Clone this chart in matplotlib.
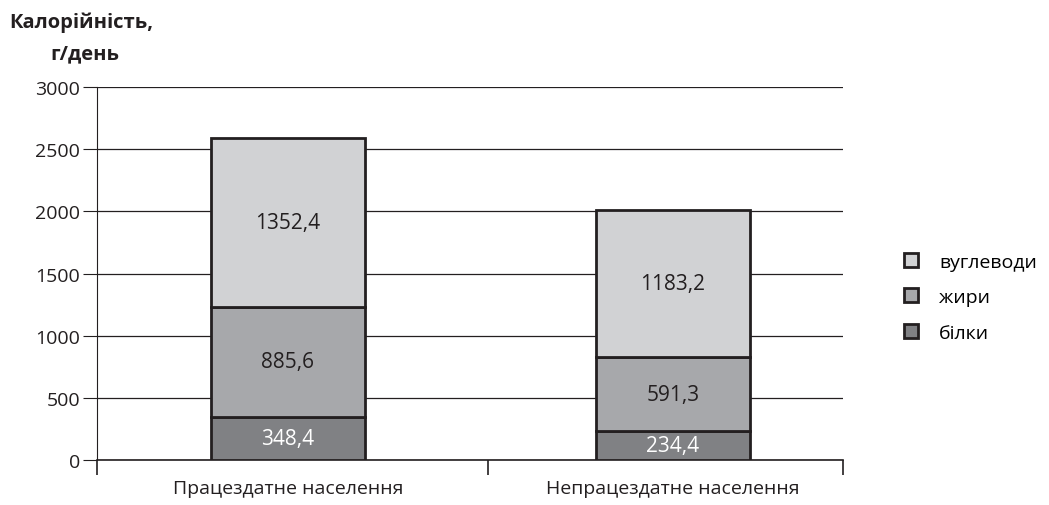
import matplotlib.pyplot as plt
import numpy as np

plt.rcParams['font.family'] = ['Open Sans', 'DejaVu Sans']

categories = ['Працездатне населення', 'Непрацездатне населення']
bilky = [348.4, 234.4]
zhyry = [885.6, 591.3]
vuhlevody = [1352.4, 1183.2]
labels = ['білки', 'жири', 'вуглеводи']
yticks = [0, 500, 1000, 1500, 2000, 2500, 3000]

colors = ['#808184', '#a7a8ab', '#d1d2d4']
edge = '#231f20'
fs = 14

fig = plt.figure(figsize=(10.49, 5.06), dpi=100)
ax = fig.add_axes([0.0925, 0.089, 0.711, 0.737])

x = np.arange(len(categories))
w = 0.4
bottom = np.zeros(len(categories))
bars = []
for vals, c, lab in zip([bilky, zhyry, vuhlevody], colors, labels):
    b = ax.bar(x, vals, w, bottom=bottom, color=c, edgecolor=edge,
               linewidth=2, label=lab, zorder=3)
    bars.append(b)
    for xi, v, b0 in zip(x, vals, bottom):
        tc = 'white' if c == colors[0] else '#231f20'
        ax.text(xi, b0 + v / 2, f'{v:.1f}'.replace('.', ','), ha='center',
                va='center', fontsize=15, color=tc, zorder=4)
    bottom += np.array(vals)

xl, xr = -0.496, 1.442
ax.set_xlim(xl, xr)
ax.set_ylim(0, 3000)
ax.set_yticks(yticks)
ax.set_yticklabels([str(t) for t in yticks], fontsize=fs, color='#231f20')
ax.yaxis.grid(True, color='#231f20', linewidth=0.9, zorder=0)
ax.set_xticks(x)
ax.set_xticklabels(categories, fontsize=fs, color='#231f20')
ax.tick_params(axis='x', length=0, pad=14)
ax.set_xticks([xl, 0.519, xr], minor=True)
ax.tick_params(axis='x', which='minor', length=11, width=1.2, color='#231f20')
ax.tick_params(axis='y', length=10, color='#231f20', direction='out', pad=2)
for s in ['top', 'right']:
    ax.spines[s].set_visible(False)
ax.spines['left'].set_color('#231f20')
ax.spines['bottom'].set_color('#231f20')
ax.spines['bottom'].set_linewidth(1.2)

handles = bars[::-1]
leg = fig.legend(handles, labels[::-1], loc='center left',
                 bbox_to_anchor=(0.862, 0.411), frameon=False, fontsize=fs,
                 handlelength=0.7, handleheight=0.7, labelspacing=0.9,
                 handletextpad=1.1, borderpad=0, borderaxespad=0)

fig.text(0.009, 0.955, 'Калорійність,', fontsize=14.5, fontweight='bold',
         color='#231f20', ha='left', va='center')
fig.text(0.081, 0.893, 'г/день', fontsize=14.5, fontweight='bold',
         color='#231f20', ha='center', va='center')

fig.savefig('out.png', dpi=100)
